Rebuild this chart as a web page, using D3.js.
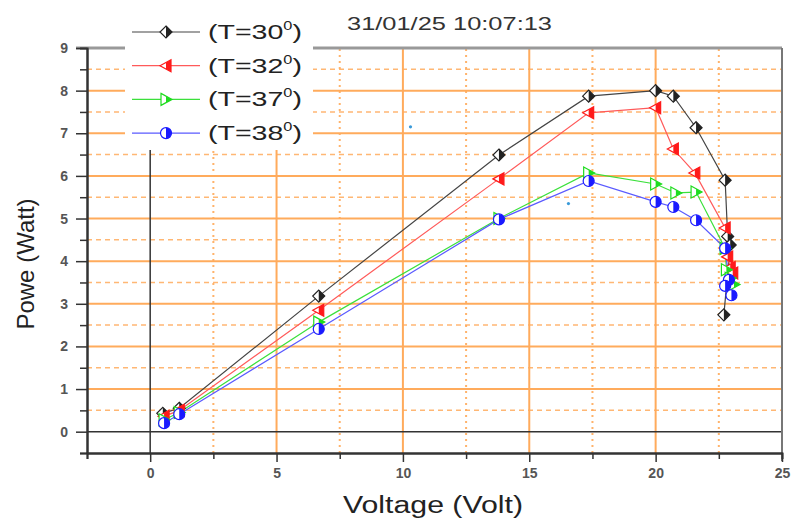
<!DOCTYPE html>
<html>
<head>
<meta charset="utf-8">
<script src="https://cdn.jsdelivr.net/npm/d3@7"></script>
<style>
  body { margin: 0; background: #fff; }
  svg { display: block; font-family: "Liberation Sans", Arial, sans-serif; }
</style>
</head>
<body>
<svg width="800" height="521"></svg>
<script>
// data
const volt30 = [0.5, 1.15, 6.67, 13.8, 17.35, 20.0, 20.7, 21.6, 22.75, 22.85, 22.95, 22.7];
const power30 = [0.43, 0.55, 3.18, 6.49, 7.87, 8.0, 7.87, 7.13, 5.9, 4.58, 4.38, 2.74];
const volt32 = [0.55, 1.15, 6.67, 13.8, 17.35, 20.0, 20.7, 21.55, 22.75, 22.85, 22.95, 23.05];
const power32 = [0.36, 0.5, 2.85, 5.93, 7.48, 7.6, 6.63, 6.07, 4.78, 4.1, 3.85, 3.72];
const volt37 = [0.55, 1.15, 6.67, 13.8, 17.35, 20.0, 20.8, 21.6, 22.75, 22.8, 22.95, 23.1];
const power37 = [0.28, 0.45, 2.57, 5.0, 6.07, 5.81, 5.6, 5.62, 4.3, 3.8, 3.6, 3.45];
const volt38 = [0.55, 1.15, 6.67, 13.8, 17.35, 20.0, 20.7, 21.6, 22.75, 22.9, 22.75, 23.0];
const power38 = [0.2, 0.41, 2.41, 4.98, 5.88, 5.39, 5.27, 4.96, 4.3, 3.56, 3.42, 3.2];
const strayVolt = [10.3, 16.55];
const strayPower = [7.15, 5.35];

const labels = ["(T=30", "(T=32", "(T=37", "(T=38"];
const xMajor = [0, 5, 10, 15, 20, 25];
const xMinor = [-2.5, 2.5, 7.5, 12.5, 17.5, 22.5];
const yMajor = [0, 1, 2, 3, 4, 5, 6, 7, 8, 9];
const yMinor = [-0.5, 0.5, 1.5, 2.5, 3.5, 4.5, 5.5, 6.5, 7.5, 8.5];
const stamp = "31/01/25 10:07:13";

const series = [
  { v: volt30, p: power30, color: "#222", line: "#444", shape: "diamond" },
  { v: volt32, p: power32, color: "#ff1a1a", line: "#ff5a5a", shape: "left" },
  { v: volt37, p: power37, color: "#1fdc1f", line: "#3be03b", shape: "right" },
  { v: volt38, p: power38, color: "#1a1aff", line: "#5a5aff", shape: "circle" }
];

const svg = d3.select("svg");
const x = d3.scaleLinear().domain([-2.5, 25]).range([87, 782]);
const y = d3.scaleLinear().domain([-0.5, 9]).range([453, 48]);

const orange = "#ffab5c";

// grid
const grid = svg.append("g");
grid.selectAll(".hmin").data(yMinor.filter(d => d > 0)).join("line")
  .attr("x1", x(-2.5)).attr("x2", x(25)).attr("y1", d => y(d)).attr("y2", d => y(d))
  .attr("stroke", orange).attr("stroke-width", 1.5).attr("stroke-dasharray", "5,4").attr("opacity", 0.85);
grid.selectAll(".hmaj").data(yMajor.filter(d => d > 0 && d < 9)).join("line")
  .attr("x1", x(-2.5)).attr("x2", x(25)).attr("y1", d => y(d)).attr("y2", d => y(d))
  .attr("stroke", orange).attr("stroke-width", 2);
grid.selectAll(".vmin").data(xMinor.filter(d => d > -2.5)).join("line")
  .attr("y1", y(-0.5)).attr("y2", y(9)).attr("x1", d => x(d)).attr("x2", d => x(d))
  .attr("stroke", orange).attr("stroke-width", 2).attr("stroke-dasharray", "2,4").attr("opacity", 0.9);
grid.selectAll(".vmaj").data(xMajor.filter(d => d > 0 && d < 25)).join("line")
  .attr("y1", y(-0.5)).attr("y2", y(9)).attr("x1", d => x(d)).attr("x2", d => x(d))
  .attr("stroke", orange).attr("stroke-width", 2);

// zero lines
svg.append("line").attr("x1", x(-2.5)).attr("x2", x(25)).attr("y1", y(0)).attr("y2", y(0))
  .attr("stroke", "#333").attr("stroke-width", 1.5);
svg.append("line").attr("x1", x(0)).attr("x2", x(0)).attr("y1", y(-0.5)).attr("y2", y(9))
  .attr("stroke", "#333").attr("stroke-width", 1.5);

// frame
svg.append("line").attr("x1", 76).attr("x2", x(25)).attr("y1", y(9)).attr("y2", y(9))
  .attr("stroke", "#999").attr("stroke-width", 3);
svg.append("line").attr("x1", x(25)).attr("x2", x(25)).attr("y1", y(9)).attr("y2", y(-0.5) + 8)
  .attr("stroke", "#777").attr("stroke-width", 2);

// axes
function styleAxis(g) {
  g.select(".domain").attr("stroke", "#333").attr("stroke-width", 2);
  g.selectAll(".tick line").attr("stroke", "#333").attr("stroke-width", 1.5);
  g.selectAll("text").attr("fill", "#555").attr("font-size", 14).attr("font-weight", "bold")
    .attr("font-family", "'Liberation Sans', Arial, sans-serif");
}
svg.append("g").attr("transform", `translate(${x(-2.5)},0)`)
  .call(d3.axisLeft(y).tickValues(yMinor).tickSize(7).tickFormat(""))
  .call(styleAxis);
svg.append("g").attr("transform", `translate(${x(-2.5)},0)`)
  .call(d3.axisLeft(y).tickValues(yMajor).tickSize(11).tickPadding(8).tickSizeOuter(0).tickFormat(d3.format("d")))
  .call(styleAxis);
svg.append("g").attr("transform", `translate(0,${y(-0.5)})`)
  .call(d3.axisBottom(x).tickValues(xMinor).tickSize(6).tickFormat(""))
  .call(styleAxis);
svg.append("g").attr("transform", `translate(0,${y(-0.5)})`)
  .call(d3.axisBottom(x).tickValues(xMajor).tickSize(9).tickPadding(6).tickSizeOuter(0).tickFormat(d3.format("d")))
  .call(styleAxis);

// marker shapes: outline with right half filled
function outline(shape) {
  if (shape === "diamond") return "M0,-6L6,0L0,6L-6,0Z";
  if (shape === "left") return "M-6,0L5,-6L5,6Z";
  if (shape === "right") return "M-5,-6L6,0L-5,6Z";
  return "M0,-5.5A5.5,5.5 0 1,1 0,5.5A5.5,5.5 0 1,1 0,-5.5Z";
}
function half(shape) {
  if (shape === "diamond") return "M0,-6L6,0L0,6Z";
  if (shape === "left") return "M0,-3.3L5,-6L5,6L0,3.3Z";
  if (shape === "right") return "M0,-3.3L6,0L0,3.3Z";
  return "M0,-5.5A5.5,5.5 0 0,1 0,5.5Z";
}
function marker(g, s) {
  g.append("path").attr("d", outline(s.shape)).attr("fill", "#fff")
    .attr("stroke", s.color).attr("stroke-width", 1.2);
  g.append("path").attr("d", half(s.shape)).attr("fill", s.color);
}

// series
const line = d3.line().x(d => x(d[0])).y(d => y(d[1]));
series.forEach(s => {
  const pts = s.v.map((v, i) => [v, s.p[i]]);
  svg.append("path").datum(pts).attr("d", line)
    .attr("fill", "none").attr("stroke", s.line).attr("stroke-width", 1.2);
});
series.forEach(s => {
  s.v.forEach((v, i) => {
    const g = svg.append("g").attr("transform", `translate(${x(v)},${y(s.p[i])})`);
    marker(g, s);
  });
});

svg.selectAll(".stray").data(strayVolt).join("circle")
  .attr("cx", d => x(d)).attr("cy", (d, i) => y(strayPower[i])).attr("r", 1.6).attr("fill", "#3a9ad9");

// legend
svg.append("rect").attr("x", 125).attr("y", 8).attr("width", 188).attr("height", 142).attr("fill", "#fff");
series.forEach((s, i) => {
  const ly = 32 + i * 33.7;
  svg.append("line").attr("x1", 132).attr("x2", 200).attr("y1", ly).attr("y2", ly)
    .attr("stroke", s.line).attr("stroke-width", 1.2);
  marker(svg.append("g").attr("transform", `translate(166,${ly})`), s);
  const t = svg.append("text").attr("transform", `translate(208,${ly + 7}) scale(1.36,1)`)
    .attr("font-size", 21).attr("fill", "#222");
  t.append("tspan").text(labels[i]);
  t.append("tspan").attr("font-size", 12).attr("dy", -9).text("0");
  t.append("tspan").attr("dy", 9).text(")");
});

// time stamp
svg.append("text").attr("x", 347).attr("y", 30).attr("font-size", 18).attr("fill", "#333")
  .attr("textLength", 205).attr("lengthAdjust", "spacingAndGlyphs").text(stamp);

// axis titles
svg.append("text").attr("x", 343).attr("y", 513).attr("font-size", 23).attr("fill", "#222")
  .attr("textLength", 180).attr("lengthAdjust", "spacingAndGlyphs").text("Voltage (Volt)");
svg.append("text").attr("transform", "translate(34,264) rotate(-90)").attr("text-anchor", "middle")
  .attr("font-size", 24).attr("fill", "#222").text("Powe (Watt)");
</script>
</body>
</html>
